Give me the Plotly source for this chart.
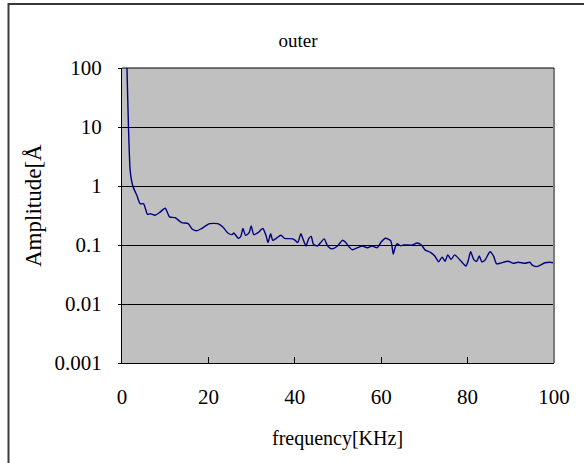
import plotly.graph_objects as go

# Spectrum of the outer signal
freq_khz = [0.8, 1.15, 1.5, 1.9, 2.5, 3.45, 4.2, 5.0, 5.9, 6.5, 7.7, 8.8, 10.0, 11.0,
            12.3, 13.8, 15.3, 16.3, 17.4, 18.4, 20.3, 22.2, 23.4, 24.5, 25.5, 25.9,
            26.9, 27.5, 28.0, 28.6, 29.4, 29.9, 30.5, 31.4, 32.6, 33.4, 33.8, 34.4,
            34.9, 35.7, 36.8, 37.6, 39.5, 40.1, 40.7, 41.4, 42.0, 42.6, 43.2, 43.8,
            44.3, 45.2, 46.0, 46.8, 47.6, 48.6, 49.9, 51.0, 51.8, 52.4, 53.3, 54.5,
            55.6, 56.8, 57.9, 59.1, 59.9, 61.0, 62.2, 62.8, 63.2, 63.7, 64.5, 65.2,
            66.0, 67.2, 68.3, 69.3, 70.2, 71.4, 72.4, 73.3, 74.1, 74.8, 75.4, 76.2,
            77.0, 78.3, 79.6, 80.1, 80.7, 81.4, 82.1, 82.7, 83.3, 84.0, 85.2, 86.0,
            86.7, 87.5, 89.4, 90.6, 91.7, 93.3, 94.4, 94.9, 95.9, 96.7, 97.9, 99.0,
            100.0]
amplitude = [1000, 100, 10, 1.8, 1.0, 0.69, 0.5, 0.5, 0.33, 0.34, 0.32, 0.36, 0.42, 0.30,
             0.29, 0.24, 0.23, 0.185, 0.175, 0.19, 0.23, 0.23, 0.2, 0.16, 0.15, 0.16,
             0.13, 0.14, 0.19, 0.146, 0.16, 0.21, 0.15, 0.16, 0.19, 0.14, 0.11, 0.155,
             0.12, 0.13, 0.146, 0.13, 0.127, 0.12, 0.11, 0.155, 0.12, 0.096, 0.127, 0.14,
             0.103, 0.096, 0.11, 0.127, 0.096, 0.086, 0.096, 0.12, 0.11, 0.096, 0.083, 0.09,
             0.096, 0.09, 0.096, 0.09, 0.11, 0.13, 0.118, 0.07, 0.09, 0.105, 0.097, 0.1,
             0.1, 0.1, 0.108, 0.1, 0.082, 0.075, 0.065, 0.052, 0.062, 0.053, 0.068, 0.057,
             0.068, 0.055, 0.044, 0.053, 0.077, 0.057, 0.053, 0.065, 0.052, 0.055, 0.077, 0.065,
             0.048, 0.049, 0.053, 0.049, 0.051, 0.049, 0.051, 0.046, 0.043, 0.045, 0.05, 0.051,
             0.05]

x_ticks = [0, 20, 40, 60, 80, 100]
y_ticks = [0.001, 0.01, 0.1, 1, 10, 100]
y_tick_text = ["0.001", "0.01", "0.1", "1", "10", "100"]

FONT = "Liberation Serif"
W, H = 584, 463
L, R, T, B = 122, 30, 68, 100

fig = go.Figure()
fig.add_trace(go.Scatter(
    x=freq_khz, y=amplitude, mode="lines",
    line=dict(color="#000080", width=1.4, shape="spline", smoothing=0.6),
    showlegend=False, hoverinfo="skip",
))

# paper-coordinate helpers for drawing outside the plot area
pw, ph = W - L - R, H - T - B
def px(x):
    return (x - L) / pw
def py(y):
    return (H - B - y) / ph

shapes = [
    # outer chart frame
    dict(type="rect", xref="paper", yref="paper",
         x0=px(8.5), x1=px(600), y0=py(470), y1=py(4),
         line=dict(color="#3a3a3a", width=2), layer="below"),
    # right edge of the plot area
    dict(type="line", xref="paper", yref="paper", x0=1, x1=1, y0=0, y1=1,
         line=dict(color="#7a7a7a", width=2)),
    # top edge of the plot area
    dict(type="line", xref="paper", yref="paper", x0=0, x1=1, y0=1, y1=1,
         line=dict(color="black", width=1)),
]

fig.update_layout(
    width=W, height=H,
    margin=dict(l=L, r=R, t=T, b=B, pad=0),
    paper_bgcolor="white", plot_bgcolor="#C0C0C0",
    font=dict(family=FONT, color="black", size=20),
    title=dict(text="outer", x=298 / W, xanchor="center", y=1 - 40 / H,
               yanchor="middle", font=dict(family=FONT, size=19)),
    shapes=shapes,
    annotations=[
        dict(text="frequency[KHz]", xref="paper", yref="paper",
             x=px(337), y=py(438), xanchor="center", yanchor="middle",
             showarrow=False, font=dict(family=FONT, size=20)),
        dict(text="Amplitude[Å", xref="paper", yref="paper",
             x=px(33), y=py(206), xanchor="center", yanchor="middle",
             textangle=-90, showarrow=False, font=dict(family=FONT, size=23)),
    ],
    xaxis=dict(
        range=[0, 100], tickvals=x_ticks, showgrid=False, zeroline=False,
        showline=True, linecolor="black", linewidth=1,
        ticks="inside", ticklen=6, tickcolor="black", tickwidth=1,
        tickfont=dict(family=FONT, size=21), ticklabelstandoff=15,
    ),
    yaxis=dict(
        type="log", range=[-3, 2], tickvals=y_ticks, ticktext=y_tick_text,
        showgrid=True, gridcolor="black", gridwidth=1, zeroline=False,
        showline=True, linecolor="black", linewidth=1,
        ticks="outside", ticklen=3, tickcolor="black", tickwidth=1,
        tickfont=dict(family=FONT, size=21), ticklabelstandoff=12,
    ),
)

fig.write_html("out.html")
